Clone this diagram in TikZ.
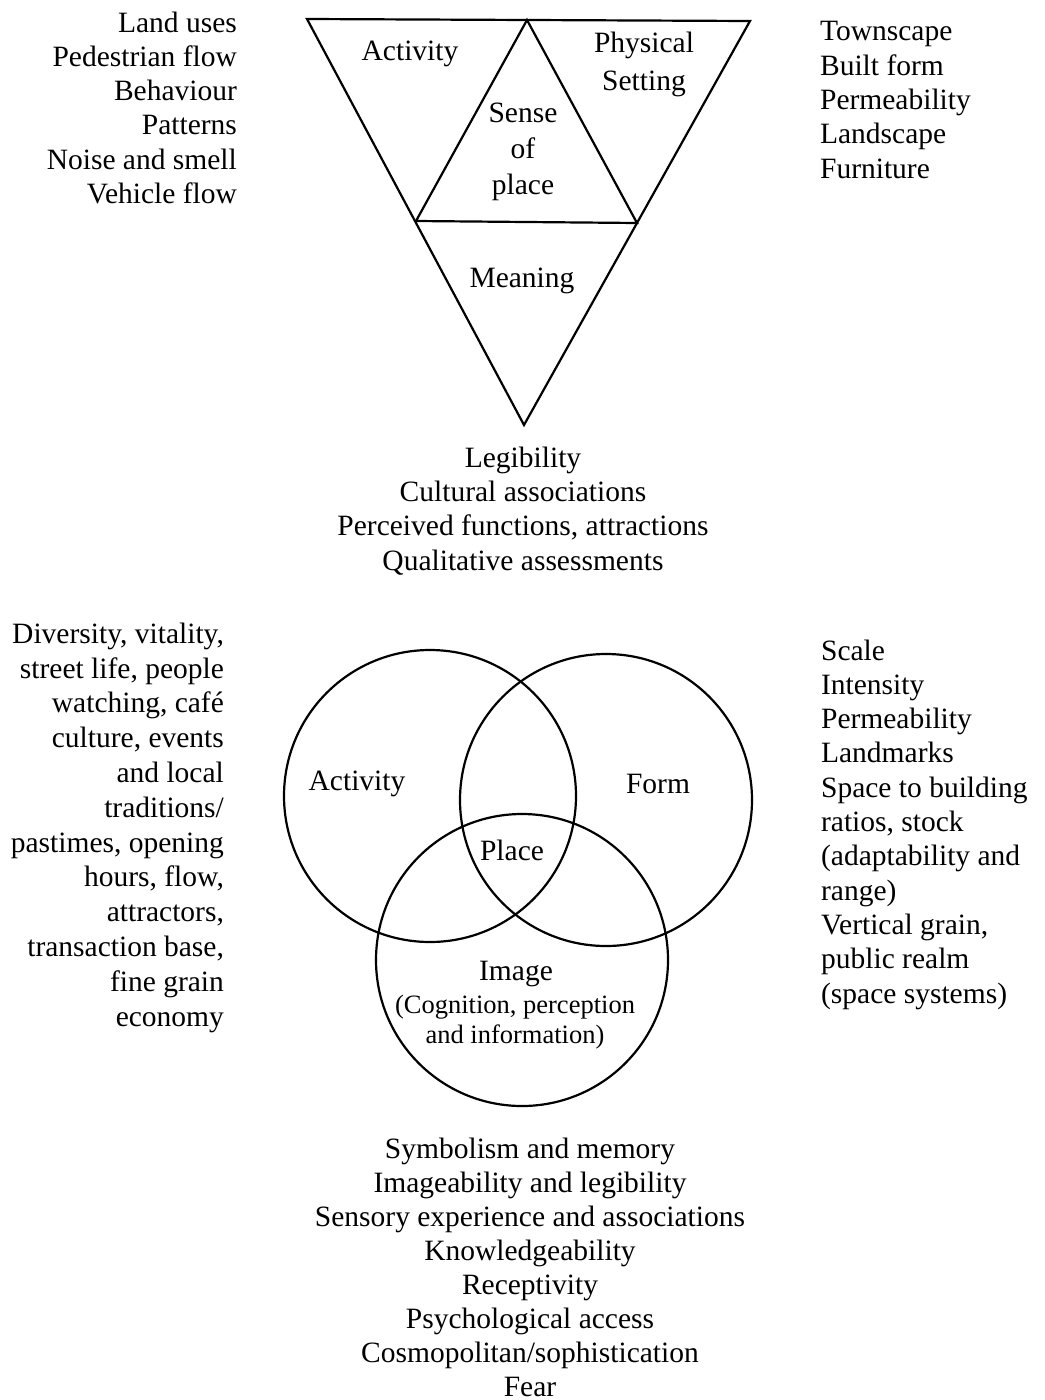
\documentclass[tikz,border=0pt]{standalone}
\usepackage{fontspec}
\setmainfont{Liberation Serif}
\usepackage{tikz}
\usepackage{xcolor}

\tikzset{
  txt/.style={font=\fontsize{29.5}{34.3}\selectfont, inner sep=0pt, anchor=base},
  smalltxt/.style={font=\fontsize{26.5}{30}\selectfont, inner sep=0pt, anchor=base},
}

\begin{document}
\begin{tikzpicture}[x=1pt, y=-1pt, line width=2.2pt]
  % Page has the size of the scan; multi-line nodes sit on their last baseline
  \useasboundingbox (0,0) rectangle (1044,1400);

  % Outer and inner triangle
  \coordinate (tl) at (307,19);
  \coordinate (tr) at (750,21);
  \coordinate (bt) at (524,425);
  \coordinate (tm) at (527,20);
  \coordinate (ml) at (416,221);
  \coordinate (mr) at (637,223);
  \draw (tl) -- (tr) -- (bt) -- cycle;
  \draw (ml) -- (tm) -- (mr) -- cycle;

  \node[txt] (tact) at (410,60) {Activity};
  \node[txt, align=center] (phys) at (644,90) {Physical\\[3pt]Setting};
  \node[txt, align=center] (sense) at (523,194) {Sense\\[1.5pt]of\\[1.5pt]place};
  \node[txt] (mean) at (522,287) {Meaning};

  \node[txt, align=right, anchor=base east] (uses) at (238,203.5)
    {Land uses\\Pedestrian flow\\Behaviour\\Patterns\\Noise and smell\\Vehicle flow};
  \node[txt, align=left, anchor=base west] (town) at (819,178)
    {Townscape\\Built form\\Permeability\\Landscape\\Furniture};
  \node[txt, align=center] (legib) at (523,570)
    {Legibility\\Cultural associations\\Perceived functions, attractions\\Qualitative assessments};

  % Three circles
  \draw (430,796) circle (146pt);
  \draw (606,800) circle (146pt);
  \draw (522,960) circle (146pt);

  \node[txt] (vact) at (357,790) {Activity};
  \node[txt] (form) at (658,793) {Form};
  \node[txt] (place) at (512,860) {Place};
  \node[txt] (image) at (516,980) {Image};
  \node[smalltxt, align=center] (cogn) at (515,1043) {(Cognition, perception\\and information)};

  \node[txt, align=right, anchor=base east, font=\fontsize{29.5}{34.8}\selectfont] (divers) at (225,1026)
    {Diversity, vitality,\\street life, people\\watching, café\\culture, events\\and local\\traditions/\\pastimes, opening\\hours, flow,\\attractors,\\transaction base,\\fine grain\\economy};
  \node[txt, align=left, anchor=base west] (scale) at (820,1003)
    {Scale\\Intensity\\Permeability\\Landmarks\\Space to building\\ratios, stock\\(adaptability and\\range)\\Vertical grain,\\public realm\\(space systems)};
  \node[txt, align=center, font=\fontsize{29.5}{33.9}\selectfont] (symb) at (530,1396)
    {Symbolism and memory\\Imageability and legibility\\Sensory experience and associations\\Knowledgeability\\Receptivity\\Psychological access\\Cosmopolitan/sophistication\\Fear};
\end{tikzpicture}
\end{document}
